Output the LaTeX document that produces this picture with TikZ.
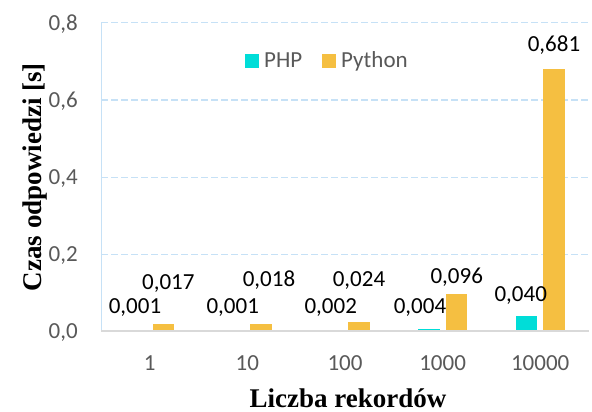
\documentclass[tikz,border=0pt]{standalone}
\usepackage{fontspec}
\setmainfont{Carlito}
\newfontfamily\titlefont{Liberation Serif}
\definecolor{phpc}{HTML}{00DDD8}
\definecolor{pyc}{HTML}{F5BF41}
\definecolor{gridc}{HTML}{C6E1F6}
\definecolor{basec}{HTML}{D9D9D9}
\definecolor{tickc}{HTML}{595959}
\tikzset{
  datalabel/.style={anchor=base, inner sep=0pt, text=black, font=\fontsize{23}{27}\selectfont},
  ticklabel/.style={inner sep=0pt, text=tickc, font=\fontsize{23}{27}\selectfont},
  axistitle/.style={anchor=base, inner sep=0pt, text=black, font=\titlefont\bfseries\fontsize{27}{31}\selectfont},
  gridline/.style={gridc, line width=1pt, dash pattern=on 7pt off 3pt},
}
\begin{document}
\begin{tikzpicture}[x=1pt, y=-1pt]
\useasboundingbox[fill=white] (0,0) rectangle (592,412);

% horizontal grid (0.2 ... 0.8) and value axis line
\foreach \yy in {254,177,100,23}
  \draw[gridline] (101,\yy) -- (589,\yy);
\draw[gridc, line width=1pt] (101,23) -- (101,331);

% value-axis tick labels
\node[ticklabel, anchor=base east] (t0) at (78,338.7) {0,0};
\node[ticklabel, anchor=base east] (t2) at (78,261.7) {0,2};
\node[ticklabel, anchor=base east] (t4) at (78,184.7) {0,4};
\node[ticklabel, anchor=base east] (t6) at (78,107.7) {0,6};
\node[ticklabel, anchor=base east] (t8) at (78,30.7) {0,8};

% bars: category centre / PHP value / Python value
\foreach \c/\p/\q in {149.8/0.001/0.017, 247.4/0.001/0.018, 345/0.002/0.024, 442.6/0.004/0.096, 540.2/0.040/0.681}{
  \fill[phpc] ({\c-24.5},331) rectangle ({\c-3},{331-\p*385});
  \fill[pyc]  ({\c+3},331) rectangle ({\c+24.5},{331-\q*385});
}

% category axis
\draw[basec, line width=1.5pt] (101,331) -- (589,331);
\node[ticklabel, anchor=base] (c1) at (149.8,370) {1};
\node[ticklabel, anchor=base] (c2) at (247.4,370) {10};
\node[ticklabel, anchor=base] (c3) at (345,370) {100};
\node[ticklabel, anchor=base] (c4) at (442.6,370) {1000};
\node[ticklabel, anchor=base] (c5) at (540.2,370) {10000};

% data labels
\node[datalabel] (p1) at (135,313.3) {0,001};
\node[datalabel] (y1) at (168.3,289.3) {0,017};
\node[datalabel] (p2) at (232.7,313.3) {0,001};
\node[datalabel] (y2) at (269,286.7) {0,018};
\node[datalabel] (p3) at (330.7,313.3) {0,002};
\node[datalabel] (y3) at (359,286.7) {0,024};
\node[datalabel] (p4) at (420,313.3) {0,004};
\node[datalabel] (y4) at (456.7,283.3) {0,096};
\node[datalabel] (p5) at (520.7,301.7) {0,040};
\node[datalabel] (y5) at (554,51.7) {0,681};

% legend
\fill[phpc] (245,54) rectangle (259,68);
\node[ticklabel, anchor=base west] (lphp) at (264,67.3) {PHP};
\fill[pyc] (322,54) rectangle (336,68);
\node[ticklabel, anchor=base west] (lpy) at (341,67.3) {Python};

% axis titles
\node[axistitle] (xtitle) at (348,407.5) {Liczba rekordów};
\node[axistitle, rotate=90] (ytitle) at (41,177) {Czas odpowiedzi [s]};
\end{tikzpicture}
\end{document}
